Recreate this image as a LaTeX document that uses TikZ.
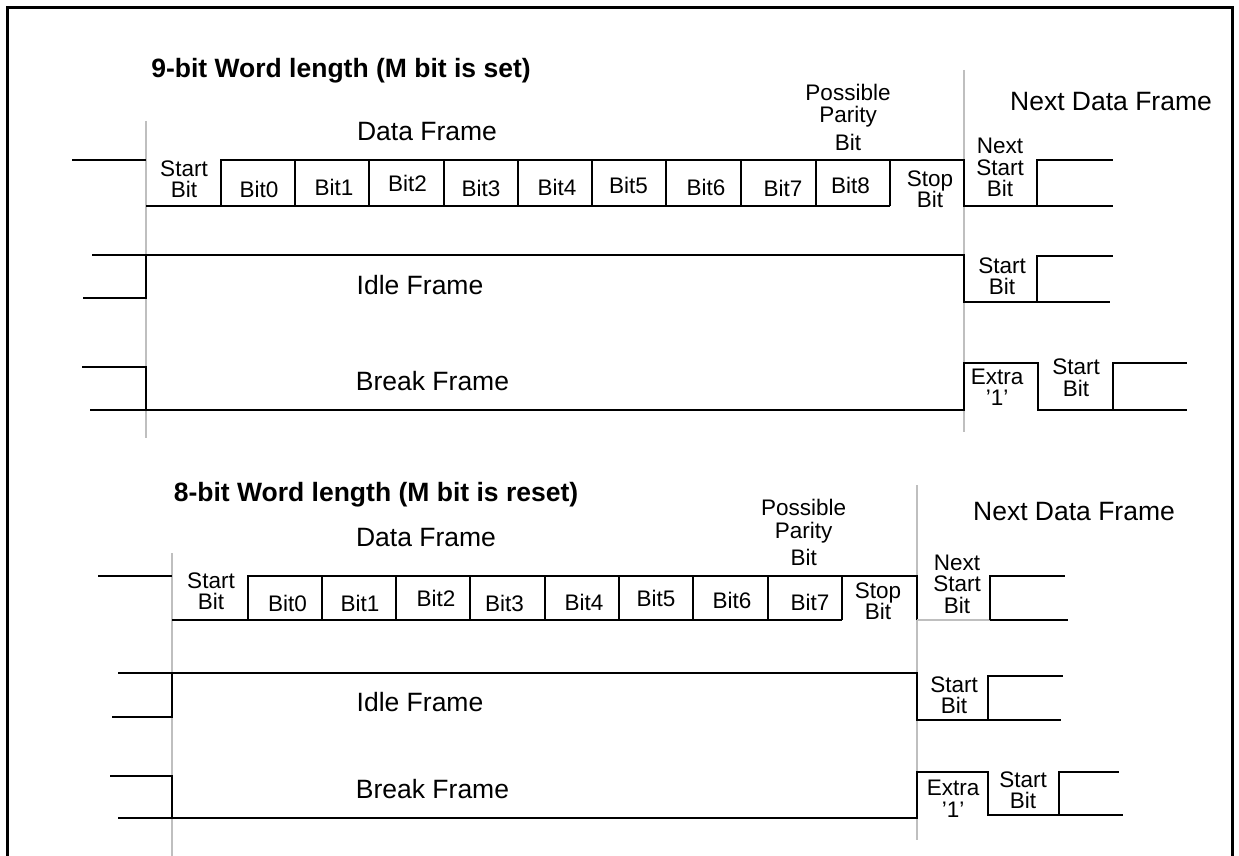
\documentclass[tikz,border=0pt]{standalone}
\usepackage{fontspec}
\setmainfont{Liberation Sans}
\begin{document}
\begin{tikzpicture}[x=1pt, y=-1pt,
    wave/.style={line width=1.8pt},
    marker/.style={draw=black!25, line width=1.6pt},
    lbl/.style={font=\fontsize{22.5}{21.5}\selectfont, align=center, inner sep=0pt},
    framelbl/.style={font=\fontsize{26.5}{30}\selectfont, inner sep=0pt, anchor=base},
    heading/.style={font=\bfseries\fontsize{26.5}{30}\selectfont, inner sep=0pt, anchor=base}]
    \useasboundingbox (0,0) rectangle (1239,856);
    \draw[line width=3pt] (7,856) -- (7,8) -- (1232,8) -- (1232,856);

    % frame markers
    \draw[marker] (146,121) -- (146,438);
    \draw[marker] (964,70) -- (964,432);
    \draw[marker] (172,553) -- (172,856);
    \draw[marker] (917,485) -- (917,840);

    % 9-bit word length
    \node[heading] (title9) at (341,77.5) {9-bit Word length (M bit is set)};
    \node[framelbl] (data9) at (427,140) {Data Frame};
    \node[framelbl] (next9) at (1111,111) {Next Data Frame};
    \node[lbl, font=\fontsize{22.5}{22.5}\selectfont] (par9) at (848,117) {Possible\\Parity\\[5pt]Bit};
    \draw[wave] (72,160) -- (146,160);
    \draw[wave] (146,206) -- (890,206);
    \draw[wave] (221,206) -- (221,160) -- (964,160) -- (964,206) -- (1113,206);
    \draw[wave] (1037,206) -- (1037,160) -- (1113,160);
    \foreach \x in {295,369,444,518,592,666,741,816,890}
        \draw[wave] (\x,160) -- (\x,206);
    \node[lbl] (start9) at (184,179) {Start\\Bit};
    \node[lbl, anchor=base] (bit9a) at (259,197) {Bit0};
    \node[lbl, anchor=base] (bit9b) at (334,195) {Bit1};
    \node[lbl, anchor=base] (bit9c) at (407.5,191.7) {Bit2};
    \node[lbl, anchor=base] (bit9d) at (481,196.7) {Bit3};
    \node[lbl, anchor=base] (bit9e) at (557,195) {Bit4};
    \node[lbl, anchor=base] (bit9f) at (628.5,193.3) {Bit5};
    \node[lbl, anchor=base] (bit9g) at (706,195) {Bit6};
    \node[lbl, anchor=base] (bit9h) at (783,196.7) {Bit7};
    \node[lbl, anchor=base] (bit9i) at (850.5,193.3) {Bit8};
    \node[lbl] (stop9) at (930,189) {Stop\\Bit};
    \node[lbl] (nstart9) at (1000,167.5) {Next\\Start\\Bit};

    \draw[wave] (92,255) -- (964,255) -- (964,302) -- (1110,302);
    \draw[wave] (83,298) -- (146,298) -- (146,255);
    \draw[wave] (1037,302) -- (1037,256) -- (1113,256);
    \node[framelbl] (idle9) at (420,294) {Idle Frame};
    \node[lbl] (istart9) at (1002,276) {Start\\Bit};

    \draw[wave] (82,367) -- (146,367) -- (146,410);
    \draw[wave] (90,410) -- (964,410) -- (964,363) -- (1038,363) -- (1038,410)
        -- (1113,410) -- (1113,363) -- (1187,363);
    \draw[wave] (1113,410) -- (1187,410);
    \node[framelbl] (brk9) at (432.5,390) {Break Frame};
    \node[lbl] (extra9) at (997,387.5) {Extra\\'1'};
    \node[lbl] (bstart9) at (1076,377.5) {Start\\Bit};

    % 8-bit word length
    \node[heading] (title8) at (376,501.7) {8-bit Word length (M bit is reset)};
    \node[framelbl] (data8) at (426,546.7) {Data Frame};
    \node[framelbl] (next8) at (1074,520) {Next Data Frame};
    \node[lbl, font=\fontsize{22.5}{22.5}\selectfont] (par8) at (803.7,532.5) {Possible\\Parity\\[5pt]Bit};
    \draw[wave] (98,576) -- (172,576);
    \draw[wave] (172,620) -- (842,620);
    \draw[wave] (248,620) -- (248,576) -- (917,576) -- (917,620);
    \draw[marker, line width=1.4pt] (917,620) -- (990,620);
    \draw[wave] (990,620) -- (1068,620);
    \draw[wave] (990,620) -- (990,576) -- (1065,576);
    \foreach \x in {322,396,470,545,619,693,768,842}
        \draw[wave] (\x,576) -- (\x,620);
    \node[lbl] (start8) at (211,591) {Start\\Bit};
    \node[lbl, anchor=base] (bit8a) at (287.5,611.7) {Bit0};
    \node[lbl, anchor=base] (bit8b) at (360,611.7) {Bit1};
    \node[lbl, anchor=base] (bit8c) at (436,606.7) {Bit2};
    \node[lbl, anchor=base] (bit8d) at (504.5,611.7) {Bit3};
    \node[lbl, anchor=base] (bit8e) at (584,610) {Bit4};
    \node[lbl, anchor=base] (bit8f) at (656,606.7) {Bit5};
    \node[lbl, anchor=base] (bit8g) at (732,608) {Bit6};
    \node[lbl, anchor=base] (bit8h) at (810,610) {Bit7};
    \node[lbl] (stop8) at (878,601) {Stop\\Bit};
    \node[lbl] (nstart8) at (957,584) {Next\\Start\\Bit};

    \draw[wave] (118,673) -- (917,673) -- (917,720) -- (1061,720);
    \draw[wave] (112,717) -- (172,717) -- (172,673);
    \draw[wave] (988,720) -- (988,676) -- (1063,676);
    \node[framelbl] (idle8) at (420,711) {Idle Frame};
    \node[lbl] (istart8) at (954,695) {Start\\Bit};

    \draw[wave] (110,776) -- (172,776) -- (172,818);
    \draw[wave] (118,818) -- (917,818) -- (917,772) -- (988,772) -- (988,815)
        -- (1059,815) -- (1059,772) -- (1119,772);
    \draw[wave] (1059,815) -- (1123,815);
    \node[framelbl] (brk8) at (432.5,798.3) {Break Frame};
    \node[lbl] (extra8) at (953,799) {Extra\\'1'};
    \node[lbl] (bstart8) at (1023,790) {Start\\Bit};
\end{tikzpicture}
\end{document}
